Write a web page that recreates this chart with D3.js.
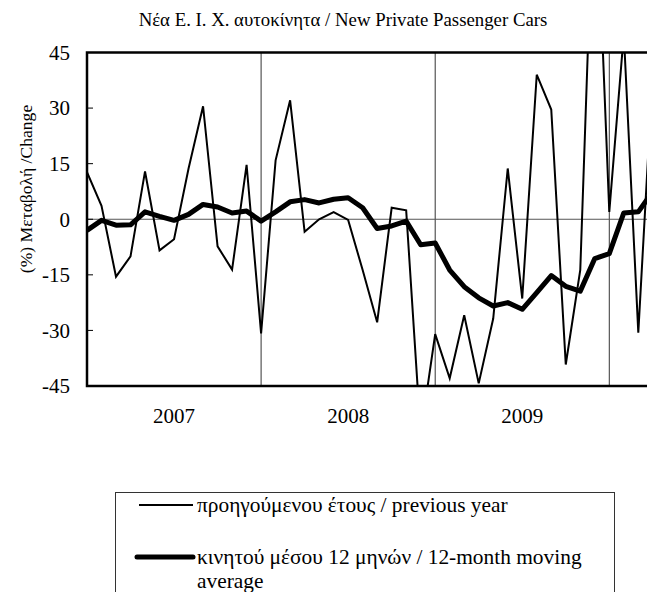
<!DOCTYPE html>
<html>
<head>
<meta charset="utf-8">
<script src="https://cdn.jsdelivr.net/npm/d3@7"></script>
<style>
  body { margin: 0; background: #fff; overflow: hidden; }
  text { font-family: "Liberation Serif", "Times New Roman", serif; fill: #000; }
</style>
</head>
<body>
<svg width="647" height="592"></svg>
<script>
// monthly categories, Jan 2007 .. Apr 2010
let months = [];
for (let yr = 2007; yr <= 2010; yr++) {
  for (let m = 1; m <= 12; m++) {
    if (yr === 2010 && m > 4) break;
    months.push(yr + '-' + (m < 10 ? '0' + m : m));
  }
}

let years = ['2007', '2008', '2009'];
let yTicks = [45, 30, 15, 0, -15, -30, -45];

// % change on previous year (thin line)
let yoyChange = [12.7, 3.6, -15.5, -10, 12.9, -8.4, -5.4, 13.7, 30.5, -7.3, -13.6, 14.7,
  -30.8, 15.9, 32.1, -3.4, 0, 1.9, -0.2, -13.7, -27.8, 3.1, 2.4, -58,
  -31, -42.9, -25.9, -44.3, -26.8, 13.7, -21.4, 39, 29.6, -39.2, -13.7, 100,
  2.0, 50, -30.6, 40];

// 12-month moving average (thick line)
let movingAvg = [-3.0, -0.3, -1.6, -1.5, 2.0, 0.8, -0.3, 1.3, 4.0, 3.3, 1.7, 2.2,
  -0.5, 2.0, 4.7, 5.3, 4.4, 5.4, 5.8, 3.1, -2.5, -1.8, -0.5, -6.9,
  -6.4, -13.7, -18.2, -21.2, -23.4, -22.5, -24.3, -19.8, -15.2, -18.1, -19.4, -10.6,
  -9.3, 1.7, 2.0, 7.5];

let legendLabels = ['προηγούμενου έτους / previous year',
  'κινητού μέσου 12 μηνών / 12-month moving average'];

let svg = d3.select('svg');
let plotLeft = 87, plotTop = 52.5, plotBottom = 386;
let plotRight = 87 + 39 * 14.508;

let x = d3.scalePoint().domain(months).range([plotLeft, plotRight]);
let y = d3.scaleLinear().domain([-45, 45]).range([plotBottom, plotTop]);

// title
svg.append('text')
  .attr('x', 343).attr('y', 26)
  .attr('text-anchor', 'middle')
  .style('font-size', '18.8px')
  .text('Νέα Ε. Ι. Χ. αυτοκίνητα / New Private Passenger Cars');

// clip for the plot area
svg.append('clipPath').attr('id', 'plot-clip')
  .append('rect')
  .attr('x', plotLeft).attr('y', plotTop)
  .attr('width', plotRight - plotLeft).attr('height', plotBottom - plotTop);

// year gridlines
svg.selectAll('.vgrid')
  .data(['2008-01', '2009-01', '2010-01'])
  .enter().append('line')
  .attr('class', 'vgrid')
  .attr('x1', d => x(d)).attr('x2', d => x(d))
  .attr('y1', plotTop).attr('y2', plotBottom)
  .style('stroke', '#333').style('stroke-width', 1);

// zero line
svg.append('line')
  .attr('x1', plotLeft).attr('x2', plotRight)
  .attr('y1', y(0)).attr('y2', y(0))
  .style('stroke', '#555').style('stroke-width', 1);

// y axis ticks (inside) + labels
svg.selectAll('.ytick')
  .data(yTicks)
  .enter().append('line')
  .attr('x1', plotLeft).attr('x2', plotLeft + 6)
  .attr('y1', d => y(d)).attr('y2', d => y(d))
  .style('stroke', '#000').style('stroke-width', 1);

svg.selectAll('.ylabel')
  .data(yTicks)
  .enter().append('text')
  .attr('x', 70)
  .attr('y', d => y(d))
  .attr('dy', '0.35em')
  .attr('text-anchor', 'end')
  .style('font-size', '21px')
  .text(d => d);

// y axis title
svg.append('text')
  .attr('transform', 'translate(32,189) rotate(-90)')
  .attr('text-anchor', 'middle')
  .style('font-size', '17.6px')
  .text('(%) Μεταβολή /Change');

// year labels centred between the gridlines
svg.selectAll('.xlabel')
  .data(years)
  .enter().append('text')
  .attr('x', d => (x(d + '-01') + x((+d + 1) + '-01')) / 2)
  .attr('y', 423)
  .attr('text-anchor', 'middle')
  .style('font-size', '21px')
  .text(d => d);

let plot = svg.append('g').attr('clip-path', 'url(#plot-clip)');

let line = d3.line()
  .x((d, i) => x(months[i]))
  .y(d => y(d));

plot.append('path')
  .datum(yoyChange)
  .attr('d', line)
  .style('fill', 'none')
  .style('stroke', '#000')
  .style('stroke-width', 2)
  .style('stroke-linejoin', 'miter');

plot.append('path')
  .datum(movingAvg)
  .attr('d', line)
  .style('fill', 'none')
  .style('stroke', '#000')
  .style('stroke-width', 5)
  .style('stroke-linejoin', 'round');

// plot frame
svg.append('rect')
  .attr('x', plotLeft).attr('y', plotTop)
  .attr('width', plotRight - plotLeft).attr('height', plotBottom - plotTop)
  .style('fill', 'none')
  .style('stroke', '#000')
  .style('stroke-width', 2.5);

// legend
let legend = svg.append('g');
legend.append('rect')
  .attr('x', 115.5).attr('y', 492.5)
  .attr('width', 499).attr('height', 120)
  .style('fill', 'none')
  .style('stroke', '#333')
  .style('stroke-width', 1);

legend.append('line')
  .attr('x1', 139).attr('x2', 193)
  .attr('y1', 505).attr('y2', 505)
  .style('stroke', '#000').style('stroke-width', 2);
legend.append('text')
  .attr('x', 197).attr('y', 512)
  .style('font-size', '21.4px')
  .text(legendLabels[0]);

legend.append('line')
  .attr('x1', 137).attr('x2', 193)
  .attr('y1', 557).attr('y2', 557)
  .style('stroke', '#000').style('stroke-width', 5)
  .style('stroke-linecap', 'round');
let t2 = legend.append('text')
  .attr('x', 197).attr('y', 564)
  .style('font-size', '21.4px');
t2.append('tspan').text('κινητού μέσου 12 μηνών / 12-month moving');
t2.append('tspan').attr('x', 197).attr('dy', 24).text('average');
</script>
</body>
</html>
